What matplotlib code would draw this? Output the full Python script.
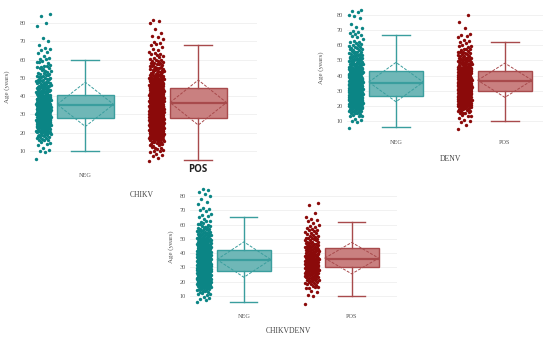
import numpy as np
import matplotlib.pyplot as plt
from matplotlib.patches import Polygon

# Counts of patients per year of age, ages 5..85
ages = list(range(5, 86))

chikv_neg_counts = [0, 1, 0, 0, 1, 1, 1, 1, 1, 1,
                    2, 3, 3, 4, 5, 6, 7, 8, 9, 9,
                    10, 10, 10, 11, 11, 11, 11, 11, 10, 10,
                    10, 10, 9, 9, 8, 8, 7, 7, 6, 6,
                    6, 5, 5, 5, 4, 4, 4, 3, 3, 3,
                    3, 3, 2, 2, 2, 2, 1, 1, 1, 1,
                    1, 1, 1, 1, 0, 1, 0, 1, 0, 0,
                    0, 0, 0, 0, 1, 1, 0, 0, 0, 1,
                    1]
chikv_pos_counts = [1, 1, 1, 1, 2, 2, 2, 3, 3, 4,
                    5, 6, 8, 9, 11, 12, 14, 15, 16, 16,
                    17, 17, 18, 18, 18, 18, 18, 18, 17, 17,
                    17, 16, 16, 15, 15, 14, 13, 12, 12, 11,
                    10, 10, 9, 9, 8, 7, 7, 6, 5, 5,
                    5, 4, 4, 4, 3, 3, 2, 2, 2, 2,
                    1, 1, 1, 2, 1, 1, 1, 1, 1, 0,
                    1, 0, 1, 0, 0, 1, 1, 1, 0, 0,
                    0]
denv_neg_counts = [0, 1, 0, 0, 1, 1, 1, 1, 2, 2,
                   3, 4, 5, 6, 7, 8, 8, 9, 9, 10,
                   10, 11, 11, 11, 11, 11, 11, 10, 10, 10,
                   10, 10, 9, 9, 9, 8, 8, 8, 7, 7,
                   7, 6, 6, 6, 5, 5, 5, 4, 4, 4,
                   3, 3, 3, 3, 3, 2, 2, 2, 1, 1,
                   1, 1, 2, 1, 1, 1, 1, 1, 0, 1,
                   0, 0, 0, 1, 1, 1, 0, 1, 1, 1,
                   0]
denv_pos_counts = [1, 0, 1, 0, 1, 1, 1, 1, 1, 2,
                   2, 3, 3, 4, 5, 6, 7, 8, 8, 9,
                   10, 10, 11, 11, 11, 12, 12, 12, 12, 11,
                   11, 11, 10, 10, 10, 9, 9, 8, 8, 7,
                   7, 6, 6, 5, 5, 5, 4, 4, 3, 3,
                   3, 3, 2, 2, 2, 2, 1, 1, 1, 1,
                   1, 1, 1, 1, 0, 0, 1, 0, 0, 0,
                   1, 0, 0, 0, 0, 1, 0, 0, 0, 0,
                   0]
both_neg_counts = [0, 1, 1, 1, 1, 1, 2, 2, 3, 3,
                   4, 5, 6, 8, 9, 10, 11, 12, 12, 13,
                   13, 13, 14, 14, 14, 14, 14, 13, 13, 13,
                   12, 12, 12, 11, 11, 10, 10, 10, 9, 8,
                   8, 8, 7, 7, 6, 6, 5, 5, 4, 4,
                   4, 3, 3, 3, 3, 2, 2, 2, 1, 1,
                   1, 1, 1, 1, 1, 1, 1, 1, 0, 1,
                   0, 1, 0, 1, 0, 1, 1, 0, 1, 1,
                   1]
both_pos_counts = [1, 0, 0, 0, 0, 1, 1, 0, 1, 1,
                   1, 2, 2, 2, 3, 3, 4, 4, 5, 5,
                   6, 6, 6, 7, 7, 7, 7, 7, 7, 7,
                   7, 7, 6, 6, 6, 6, 5, 5, 5, 5,
                   4, 4, 4, 3, 3, 3, 3, 2, 2, 2,
                   2, 2, 2, 1, 1, 1, 1, 1, 1, 1,
                   1, 0, 0, 1, 0, 0, 0, 0, 0, 1,
                   1, 0, 0, 0, 0, 0, 0, 0, 0, 0,
                   0]

# box summaries: whisker low, Q1, median, Q3, whisker high, mean, sd
chikv_neg_box = [10, 28, 35.2, 40.6, 60, 35.5, 12.1]
chikv_pos_box = [5, 28, 36.1, 44.3, 68, 36.5, 12.3]
denv_neg_box = [6, 26.7, 35.3, 43, 67, 35.7, 13.0]
denv_pos_box = [10, 30, 36.4, 43.2, 62, 36.9, 11.3]
both_neg_box = [6, 27.7, 35.1, 42.1, 65, 35.5, 12.4]
both_pos_box = [10, 30, 35.9, 43.3, 62, 36.5, 11.0]

groups = ['NEG', 'POS']
yticks = [10, 20, 30, 40, 50, 60, 70, 80]

W, H = 550, 338
teal_pt, teal_line, teal_fill = '#0b8585', '#3a9e9e', '#6fb7b7'
red_pt, red_line, red_fill = '#8b0a0a', '#a84a4c', '#c98080'
serif = 'Liberation Serif'


def px_axes(fig, x0, x1, y0, y1):
    return fig.add_axes([x0 / W, 1 - y1 / H, (x1 - x0) / W, (y1 - y0) / H])


def draw_group(ax, pos, counts, box, pt_col, line_col, fill_col):
    ys = np.repeat(ages, counts).astype(float)
    idx = np.arange(len(ys))
    # deterministic jitter so the cloud is not a single line
    jx = ((idx * 0.618034) % 1 - 0.5) * 0.13
    jy = ((idx * 0.754878) % 1 - 0.5) * 0.9
    ax.scatter(pos - 0.37 + jx, ys + jy, s=6, color=pt_col, linewidths=0, zorder=3)

    lo, q1, med, q3, hi, mean, sd = box
    w = 0.5
    stats = [dict(whislo=lo, q1=q1, med=med, q3=q3, whishi=hi, fliers=[])]
    ax.bxp(stats, positions=[pos], widths=w, patch_artist=True, showfliers=False,
           capwidths=w * 0.5,
           boxprops=dict(facecolor=fill_col, edgecolor=line_col, linewidth=1.0),
           medianprops=dict(color=line_col, linewidth=1.6),
           whiskerprops=dict(color=line_col, linewidth=1.0),
           capprops=dict(color=line_col, linewidth=1.0), manage_ticks=False)
    diamond = Polygon([(pos - w / 2, mean), (pos, mean + sd), (pos + w / 2, mean), (pos, mean - sd)],
                      closed=True, fill=False, edgecolor=line_col, linewidth=0.7,
                      linestyle=(0, (3, 1.5)), zorder=4)
    ax.add_patch(diamond)
    ax.plot([pos - w / 2, pos + w / 2], [mean, mean], color=line_col, linewidth=0.7,
            linestyle=(0, (3, 1.5)), zorder=4)


def style_panel(ax, xlim, title_xy, ylabel_xy, fig, labels=groups):
    ax.set_xlim(*xlim)
    ax.set_ylim(2, 88)
    for s in ax.spines.values():
        s.set_visible(False)
    ax.set_yticks(yticks)
    ax.set_yticklabels([str(t) for t in yticks], family=serif, fontsize=4.5, color='#555555')
    ax.yaxis.grid(True, color='#efefef', linewidth=0.6)
    ax.set_axisbelow(True)
    ax.tick_params(length=0, pad=3)
    ax.set_xticks([0, 1])
    ax.set_xticklabels(labels, family=serif, fontsize=4.5, color='#555555')
    ax.tick_params(axis='x', pad=5)
    fig.text(title_xy[0] / W, 1 - title_xy[1] / H, title_xy[2], family=serif,
             fontsize=5.5, color='#444444', ha='center', va='center')
    fig.text(ylabel_xy[0] / W, 1 - ylabel_xy[1] / H, 'Age (years)', family=serif,
             fontsize=5, color='#555555', rotation=90, ha='center', va='center')


fig = plt.figure(figsize=(5.5, 3.38), dpi=100)

ax1 = px_axes(fig, 30, 257, 8.4, 165.6)
draw_group(ax1, 0, chikv_neg_counts, chikv_neg_box, teal_pt, teal_line, teal_fill)
draw_group(ax1, 1, chikv_pos_counts, chikv_pos_box, red_pt, red_line, red_fill)
style_panel(ax1, (-0.49, 1.52), (142, 195, 'CHIKV'), (7, 87), fig, labels=['NEG', ''])
# the POS label of this panel is larger and bold in the original
fig.text(198 / W, 1 - 170 / H, groups[1], family='Open Sans', fontsize=7,
         fontweight='bold', color='#222222', ha='center', va='center')

ax2 = px_axes(fig, 347, 543, 2.9, 133.1)
draw_group(ax2, 0, denv_neg_counts, denv_neg_box, teal_pt, teal_line, teal_fill)
draw_group(ax2, 1, denv_pos_counts, denv_pos_box, red_pt, red_line, red_fill)
style_panel(ax2, (-0.45, 1.35), (450, 159, 'DENV'), (321, 68), fig)

ax3 = px_axes(fig, 190, 397, 184.6, 307.4)
draw_group(ax3, 0, both_neg_counts, both_neg_box, teal_pt, teal_line, teal_fill)
draw_group(ax3, 1, both_pos_counts, both_pos_box, red_pt, red_line, red_fill)
style_panel(ax3, (-0.5, 1.42), (288, 331, 'CHIKVDENV'), (171, 247), fig)

fig.savefig('out.png', dpi=100)
